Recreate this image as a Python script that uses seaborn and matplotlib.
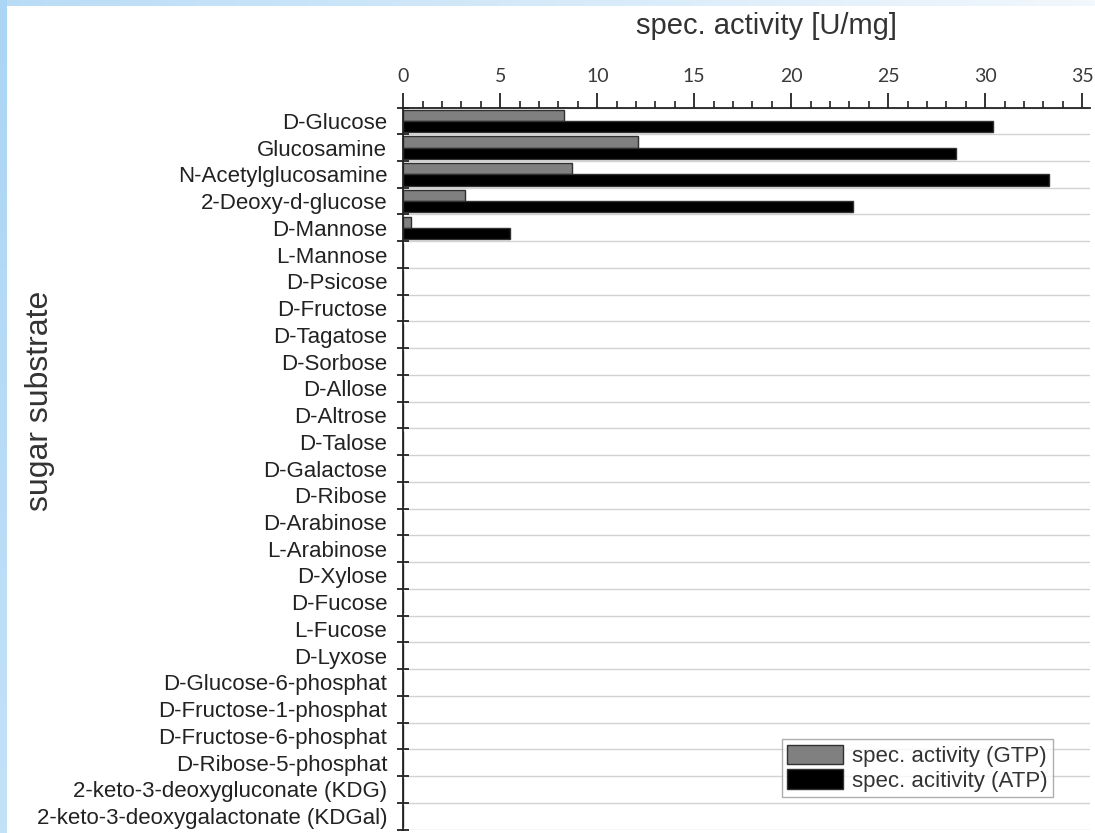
import numpy as np
import pandas as pd
import matplotlib
matplotlib.use("Agg")
import matplotlib.pyplot as plt
import seaborn as sns
from matplotlib.ticker import MultipleLocator, FixedLocator

# ---------------- data ----------------
categories = [
    "D-Glucose", "Glucosamine", "N-Acetylglucosamine", "2-Deoxy-d-glucose",
    "D-Mannose", "L-Mannose", "D-Psicose", "D-Fructose", "D-Tagatose",
    "D-Sorbose", "D-Allose", "D-Altrose", "D-Talose", "D-Galactose",
    "D-Ribose", "D-Arabinose", "L-Arabinose", "D-Xylose", "D-Fucose",
    "L-Fucose", "D-Lyxose", "D-Glucose-6-phosphat", "D-Fructose-1-phosphat",
    "D-Fructose-6-phosphat", "D-Ribose-5-phosphat",
    "2-keto-3-deoxygluconate (KDG)", "2-keto-3-deoxygalactonate (KDGal)",
]
gtp_activity = [8.3, 12.1, 8.7, 3.2, 0.4, 0, 0, 0, 0, 0, 0, 0, 0, 0,
                0, 0, 0, 0, 0, 0, 0, 0, 0, 0, 0, 0, 0]
atp_activity = [30.4, 28.5, 33.3, 23.2, 5.5, 0, 0, 0, 0, 0, 0, 0, 0, 0,
                0, 0, 0, 0, 0, 0, 0, 0, 0, 0, 0, 0, 0]
series_names = ["spec. activity (GTP)", "spec. acitivity (ATP)"]
x_ticks = [0, 5, 10, 15, 20, 25, 30, 35]

df = pd.DataFrame({
    "substrate": categories + categories,
    "activity": gtp_activity + atp_activity,
    "series": [series_names[0]] * len(categories) + [series_names[1]] * len(categories),
})

# ---------------- figure ----------------
sns.set_style("white")
plt.rcParams["font.family"] = ["Liberation Sans", "DejaVu Sans"]

W, H = 1095, 833
fig = plt.figure(figsize=(W / 100, H / 100), dpi=100)
fig.patch.set_facecolor("white")

ax_left, ax_right = 403.3, 1090.0
ax_top, ax_bottom = 107.5, 829.5
ax = fig.add_axes([ax_left / W, 1 - ax_bottom / H,
                   (ax_right - ax_left) / W, (ax_bottom - ax_top) / H])

sns.barplot(data=df, y="substrate", x="activity", hue="series",
            order=categories, hue_order=series_names,
            palette=["#808080", "#000000"], orient="h", width=0.84,
            saturation=1, edgecolor="#303030", linewidth=1.0, ax=ax)

ax.set_xlim(0, 35.4)
ax.set_ylim(len(categories) - 0.5, -0.5)

# x axis on top
ax.xaxis.tick_top()
ax.xaxis.set_label_position("top")
ax.set_xticks(x_ticks)
ax.xaxis.set_minor_locator(MultipleLocator(1))
ax.tick_params(axis="x", which="major", direction="out", length=10.5, width=1.3,
               pad=6, labelsize=14, labelcolor="#3a3a3a", color="#222222",
               top=True, bottom=False)
ax.tick_params(axis="x", which="minor", direction="out", length=5, width=1.2,
               color="#222222", top=True, bottom=False)
for lbl in ax.get_xticklabels():
    lbl.set_fontfamily(["Lato", "DejaVu Sans"])

# y axis: labels centred, ticks at category boundaries
ax.yaxis.set_minor_locator(FixedLocator(np.arange(-0.5, len(categories), 1.0)))
ax.tick_params(axis="y", which="major", length=0, pad=11.5, labelsize=16,
               labelcolor="#222222")
ax.tick_params(axis="y", which="minor", direction="inout", length=9, width=1.3,
               color="#222222", left=True)
ax.grid(which="minor", axis="y", color="#d2d2d2", linewidth=1.0)
ax.grid(which="major", axis="both", visible=False)
ax.set_axisbelow(True)

for side in ["right", "bottom"]:
    ax.spines[side].set_visible(False)
for side in ["left", "top"]:
    ax.spines[side].set_color("#222222")
    ax.spines[side].set_linewidth(1.3)

ax.set_xlabel("spec. activity [U/mg]", fontsize=21, color="#333333")
ax.xaxis.set_label_coords((766 - ax_left) / (ax_right - ax_left),
                          1 + (ax_top - 26) / (ax_bottom - ax_top))
ax.xaxis.label.set_va("center")
ax.set_ylabel("sugar substrate", fontsize=23, color="#333333")
ax.yaxis.set_label_coords((40 - ax_left) / (ax_right - ax_left),
                          1 - (401 - ax_top) / (ax_bottom - ax_top))
ax.yaxis.label.set_va("center")

# legend
handles, labels = ax.get_legend_handles_labels()
leg = ax.legend(handles, labels, loc="upper right",
                bbox_to_anchor=(1053 / W, 1 - 739 / H), bbox_transform=fig.transFigure,
                frameon=True, fancybox=False, fontsize=16, handlelength=2.5,
                handleheight=0.95, borderpad=0.25, labelspacing=0.12,
                handletextpad=0.4, borderaxespad=0)
leg.get_frame().set_edgecolor("#9a9a9a")
leg.get_frame().set_linewidth(1.0)
for t in leg.get_texts():
    t.set_color("#333333")

# decorative light-blue frame (left and top)
top_ax = fig.add_axes([0, 1 - 6 / H, 1, 6 / H])
grad = np.linspace(0, 1, 256).reshape(1, -1)
top_ax.imshow(grad, aspect="auto", cmap=matplotlib.colors.LinearSegmentedColormap.from_list(
    "bl", ["#b9dcf6", "#f2f8fd"]), extent=[0, 1, 0, 1])
top_ax.set_axis_off()
left_ax = fig.add_axes([0, 0, 7 / W, 1])
vgrad = np.linspace(0, 1, 256).reshape(-1, 1)
left_ax.imshow(vgrad, aspect="auto", cmap=matplotlib.colors.LinearSegmentedColormap.from_list(
    "bl2", ["#aad5f5", "#c3e2f8"]), extent=[0, 1, 0, 1])
left_ax.set_axis_off()

fig.savefig("out.png", dpi=100, facecolor="white")
